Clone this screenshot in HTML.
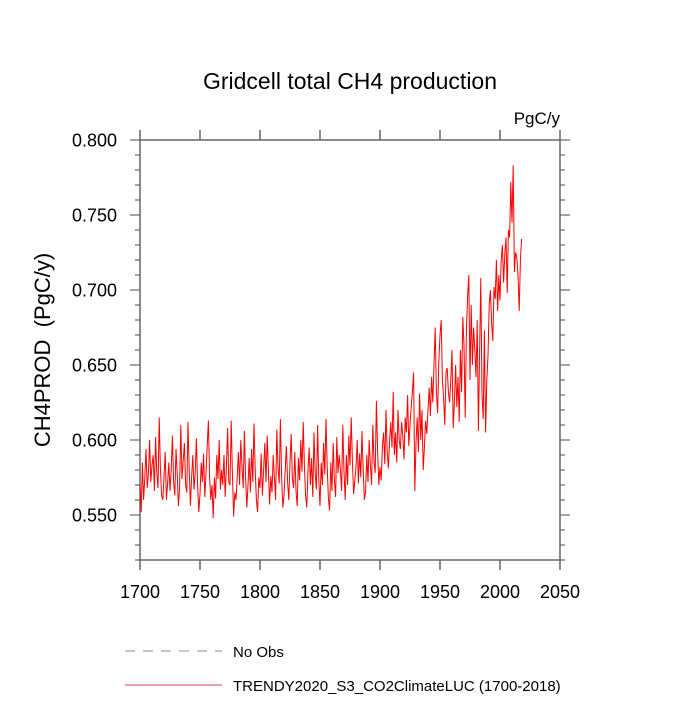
<!DOCTYPE html>
<html><head><meta charset="utf-8"><style>
body{margin:0;background:#fff;}
svg text{font-family:"Liberation Sans",sans-serif;fill:#000;}
</style></head><body>
<svg id="chart" width="700" height="700" xmlns="http://www.w3.org/2000/svg">
<text x="350" y="89" font-size="23" text-anchor="middle">Gridcell total CH4 production</text>
<text x="560" y="124" font-size="17" text-anchor="end">PgC/y</text>
<text transform="translate(50,350) rotate(-90)" font-size="22" text-anchor="middle" xml:space="preserve">CH4PROD  (PgC/y)</text>
<g id="axes"></g>
<g id="series"></g>
<g>
<line x1="125" y1="651" x2="222" y2="651" stroke="#888" stroke-dasharray="10,8" stroke-width="1"/>
<text x="233" y="657" font-size="15">No Obs</text>
<line x1="125" y1="685" x2="222" y2="685" stroke="#d04060" stroke-width="1"/>
<text x="233" y="691" font-size="15">TRENDY2020_S3_CO2ClimateLUC (1700-2018)</text>
</g>
</svg>
<script>
const startYear = 1700;
const values = [
570,552,585,560,575,594,568,578,600,572,
583,590,566,602,578,568,615,581,563,560,
575,592,560,571,585,566,580,603,572,563,
594,578,556,568,610,574,586,598,570,565,
612,580,556,575,590,567,578,601,570,552,
564,585,572,591,562,578,596,613,575,560,
570,548,575,561,590,574,600,567,580,570,
590,562,582,608,572,570,613,578,549,565,
560,575,592,570,600,582,568,606,575,555,
570,588,565,594,572,611,580,560,552,575,
568,591,563,580,598,572,603,580,557,576,
565,590,575,560,607,582,571,614,576,555,
563,580,596,572,560,585,604,574,568,592,
566,556,588,573,600,579,612,583,563,555,
580,595,570,588,562,605,578,567,610,574,
556,585,570,598,577,614,582,561,553,585,
566,598,573,562,602,578,590,580,566,610,
579,560,590,570,603,583,615,586,564,573,
582,600,571,591,575,606,580,560,566,590,
572,600,583,570,610,586,578,626,593,570,
582,573,596,605,584,620,592,581,600,612,
595,632,590,605,585,620,600,594,612,603,
587,615,605,630,596,610,622,632,645,566,
598,615,592,631,600,620,580,595,613,604,
620,635,616,642,625,650,675,632,618,652,
670,680,640,628,610,645,648,632,625,640,
660,608,625,650,622,642,612,660,632,682,
663,615,673,695,710,640,690,650,675,660,
642,680,606,658,708,630,614,673,605,640,
656,690,700,678,666,702,694,720,686,710,
693,720,730,705,724,735,698,740,735,772,
745,783,712,725,722,710,686,720,734
].map(v=>v/1000);
const xTicks = [1700,1750,1800,1850,1900,1950,2000,2050];
const yTicks = [0.55,0.60,0.65,0.70,0.75,0.80];
const yTickLabels = ["0.550","0.600","0.650","0.700","0.750","0.800"];

const L=140,R=560,T=140,B=560,xMin=1700,xMax=2050,yMin=0.52,yMax=0.80;
const xs=v=>L+(v-xMin)/(xMax-xMin)*(R-L);
const ys=v=>B-(v-yMin)/(yMax-yMin)*(B-T);
const NS="http://www.w3.org/2000/svg";
const AX="#666";
function mk(tag,at,parent){const e=document.createElementNS(NS,tag);for(const k in at)e.setAttribute(k,at[k]);parent.appendChild(e);return e;}
const ax=document.getElementById('axes');
const frame=mk('rect',{x:L,y:T,width:R-L,height:B-T,fill:'none',stroke:AX,'stroke-width':1.5},ax);


xTicks.forEach(t=>{
  const x=xs(t);
  mk('line',{x1:x,y1:B,x2:x,y2:B+10,stroke:AX,'stroke-width':1.5},ax);
  mk('line',{x1:x,y1:T,x2:x,y2:T-10,stroke:AX,'stroke-width':1.5},ax);
  const tx=mk('text',{x:x,y:B+38,'font-size':18,'text-anchor':'middle'},ax);
  tx.textContent=t;
  
  
});
for(let i=0;i<=28;i++){
  const v=yMin+i*0.01;const y=ys(v);
  const major=yTicks.some(t=>Math.abs(t-v)<1e-6);const len=major?10:5;
  mk('line',{x1:L,y1:y,x2:L-len,y2:y,stroke:AX,'stroke-width':1.2},ax);
  mk('line',{x1:R,y1:y,x2:R+len,y2:y,stroke:AX,'stroke-width':1.2},ax);
}
yTicks.forEach((t,i)=>{
  const tx=mk('text',{x:L-23,y:ys(t)+6.5,'font-size':18,'text-anchor':'end'},ax);
  tx.textContent=yTickLabels[i];
  
  
});
const pts=values.map((v,i)=>xs(startYear+i).toFixed(2)+','+ys(v).toFixed(2)).join(' ');
const line=mk('polyline',{points:pts,fill:'none',stroke:'#ff0000','stroke-width':1},document.getElementById('series'));


</script>
</body></html>
